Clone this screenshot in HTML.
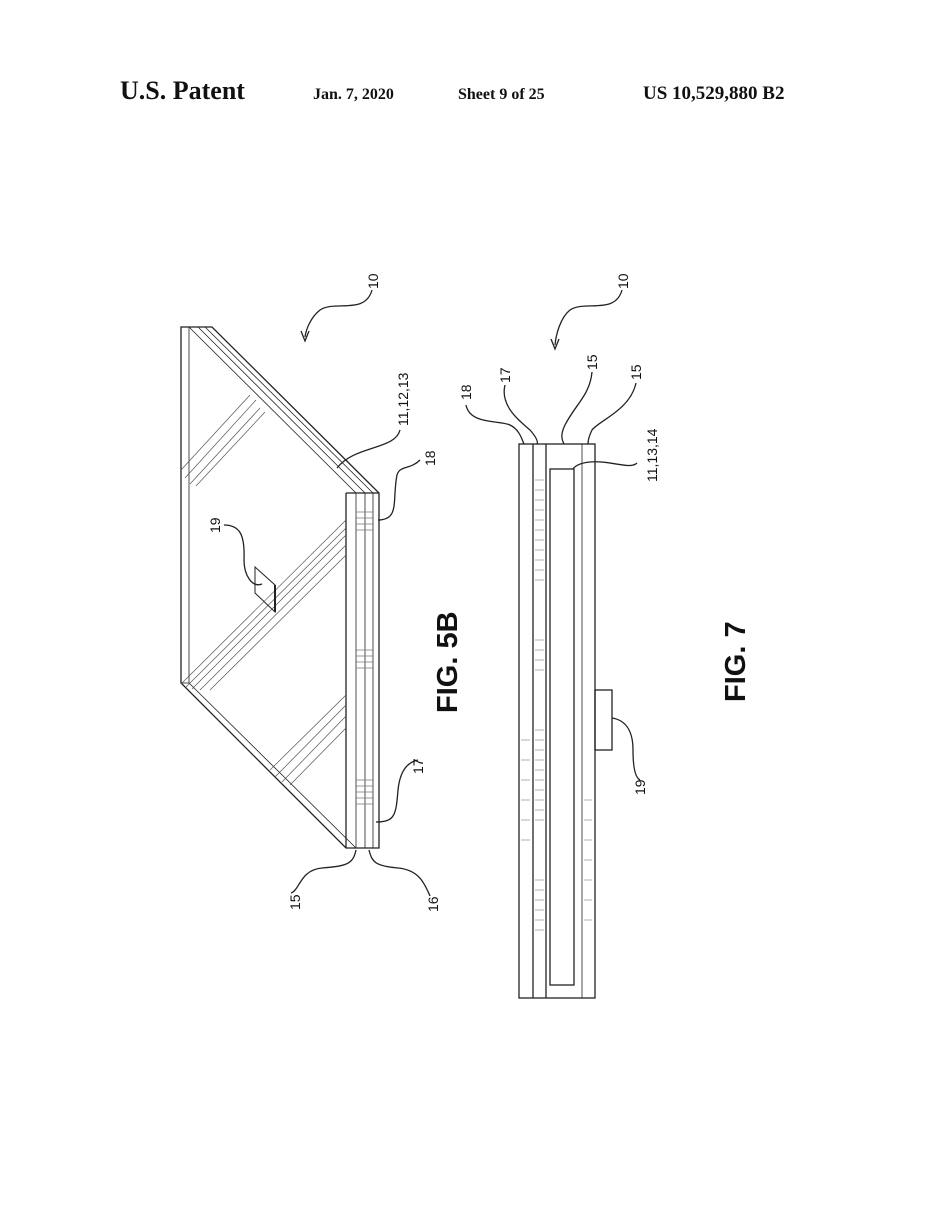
<!DOCTYPE html>
<html><head><meta charset="utf-8"><style>
body{margin:0;background:#fff}
svg{display:block}
text{font-family:"Liberation Sans",Arial,sans-serif;fill:#111}
.h{font-family:"Liberation Serif",serif;font-weight:bold}
</style></head><body>
<svg width="938" height="1208" viewBox="0 0 938 1208" xmlns="http://www.w3.org/2000/svg">
<text class="h" x="120" y="99" font-size="26">U.S. Patent</text>
<text class="h" x="313" y="99" font-size="16">Jan. 7, 2020</text>
<text class="h" x="458" y="99" font-size="16">Sheet 9 of 25</text>
<text class="h" x="643" y="99" font-size="19">US 10,529,880 B2</text>

<g fill="none" stroke="#222" stroke-width="1.3">
<path d="M181,327 L212,327 L379,493 L379,848 L346,848 L181,683 Z"/>
<line x1="346" y1="493" x2="379" y2="493"/>
<line x1="346" y1="493" x2="346" y2="848"/>
<line x1="189" y1="327" x2="189" y2="683" stroke-width="0.8"/>
<line x1="356" y1="493" x2="356" y2="848" stroke-width="0.8"/>
<line x1="365" y1="493" x2="365" y2="848" stroke-width="0.8"/>
<line x1="373" y1="493" x2="373" y2="848" stroke-width="0.8"/>
<line x1="189" y1="327" x2="356" y2="493" stroke-width="0.8"/>
<line x1="198" y1="327" x2="365" y2="493" stroke-width="0.8"/>
<line x1="205" y1="327" x2="373" y2="493" stroke-width="0.8"/>
<line x1="181" y1="683" x2="189" y2="683" stroke-width="0.8"/>
<line x1="189" y1="683" x2="356" y2="848" stroke-width="0.8"/>
<g stroke-width="0.7" stroke="#555">
<line x1="181" y1="470" x2="250" y2="395"/><line x1="185" y1="478" x2="256" y2="400"/><line x1="190" y1="484" x2="260" y2="408"/><line x1="196" y1="486" x2="265" y2="412"/>
<line x1="181" y1="684" x2="346" y2="520"/><line x1="186" y1="687" x2="346" y2="528"/><line x1="192" y1="689" x2="346" y2="535"/><line x1="200" y1="690" x2="346" y2="545"/><line x1="210" y1="690" x2="346" y2="555"/>
<line x1="270" y1="770" x2="346" y2="695"/><line x1="275" y1="777" x2="346" y2="705"/><line x1="282" y1="782" x2="346" y2="716"/><line x1="290" y1="785" x2="346" y2="728"/>
</g>
<path d="M255,567 L275,585 L275,612 L255,593 Z" stroke-width="1"/>
<line x1="275" y1="585" x2="275" y2="612" stroke-width="2"/>
<path d="M372,290 C365,315 335,300 320,310 C310,318 306,330 305,337"/>
<path d="M301,331 L305,341 L309,331"/>
<path d="M400,430 C395,450 355,445 337,468"/>
<path d="M420,460 C410,470 400,465 397,475 C392,500 400,520 378,520"/>
<path d="M224,525 C240,525 245,535 244,560 C244,575 252,588 262,584"/>
<path d="M418,760 C408,762 400,770 398,790 C396,815 395,822 376,822"/>
<path d="M291,893 C300,890 300,870 322,868 C345,866 353,865 356,850"/>
<path d="M430,896 C425,885 420,870 398,868 C375,866 372,862 369,850"/>
<rect x="519" y="444" width="76" height="554"/>
<line x1="533" y1="444" x2="533" y2="998"/>
<line x1="546" y1="444" x2="546" y2="998"/>
<line x1="582" y1="444" x2="582" y2="998" stroke-width="0.8"/>
<rect x="550" y="469" width="24" height="516"/>
<rect x="595" y="690" width="17" height="60"/>
<path d="M622,290 C615,315 585,300 570,310 C560,318 556,335 555,345"/>
<path d="M551,339 L555,349 L559,339"/>
<path d="M466,405 C470,425 500,420 510,425 C520,430 522,440 524,444"/>
<path d="M505,385 C500,405 518,420 530,430 C537,438 538,442 537,444"/>
<path d="M592,372 C590,395 575,405 565,425 C560,435 562,440 564,444"/>
<path d="M636,383 C630,410 600,420 592,430 C588,438 588,442 588,444"/>
<path d="M637,463 C630,470 610,460 590,462 C580,463 575,466 573,469"/>
<path d="M612,718 C625,720 633,730 633,750 C633,770 636,778 640,780"/>
</g>
<g stroke="#777" stroke-width="0.7">
<line x1="356" y1="512" x2="373" y2="512"/><line x1="356" y1="518" x2="373" y2="518"/><line x1="356" y1="524" x2="373" y2="524"/><line x1="356" y1="530" x2="373" y2="530"/>
<line x1="356" y1="650" x2="373" y2="650"/><line x1="356" y1="656" x2="373" y2="656"/><line x1="356" y1="662" x2="373" y2="662"/><line x1="356" y1="668" x2="373" y2="668"/>
<line x1="356" y1="780" x2="373" y2="780"/><line x1="356" y1="786" x2="373" y2="786"/><line x1="356" y1="792" x2="373" y2="792"/><line x1="356" y1="798" x2="373" y2="798"/><line x1="356" y1="804" x2="373" y2="804"/>
</g>
<g stroke="#999" stroke-width="0.7">
<path d="M535,480h9M535,490h9M535,500h9M535,510h9M535,520h9M535,530h9M535,540h9M535,550h9M535,560h9M535,570h9M535,580h9M535,640h9M535,650h9M535,660h9M535,670h9M535,730h9M535,740h9M535,750h9M535,760h9M535,770h9M535,780h9M535,790h9M535,800h9M535,810h9M535,820h9M535,880h9M535,890h9M535,900h9M535,910h9M535,920h9M535,930h9"/>
<path d="M521,740h9M521,760h9M521,780h9M521,800h9M521,820h9M521,840h9M584,800h8M584,820h8M584,840h8M584,860h8M584,880h8M584,900h8M584,920h8"/>
</g>
<g font-size="14">
<text transform="translate(378,289) rotate(-90)">10</text>
<text transform="translate(408,426) rotate(-90)">11,12,13</text>
<text transform="translate(435,466) rotate(-90)">18</text>
<text transform="translate(220,533) rotate(-90)">19</text>
<text transform="translate(423,774) rotate(-90)">17</text>
<text transform="translate(300,910) rotate(-90)">15</text>
<text transform="translate(438,912) rotate(-90)">16</text>
<text transform="translate(628,289) rotate(-90)">10</text>
<text transform="translate(471,400) rotate(-90)">18</text>
<text transform="translate(510,383) rotate(-90)">17</text>
<text transform="translate(597,370) rotate(-90)">15</text>
<text transform="translate(641,380) rotate(-90)">15</text>
<text transform="translate(657,482) rotate(-90)">11,13,14</text>
<text transform="translate(645,795) rotate(-90)">19</text>
</g>
<text transform="translate(457,713) rotate(-90)" font-size="29" font-weight="bold">FIG. 5B</text>
<text transform="translate(745,702) rotate(-90)" font-size="29" font-weight="bold">FIG. 7</text>
</svg>
</body></html>
